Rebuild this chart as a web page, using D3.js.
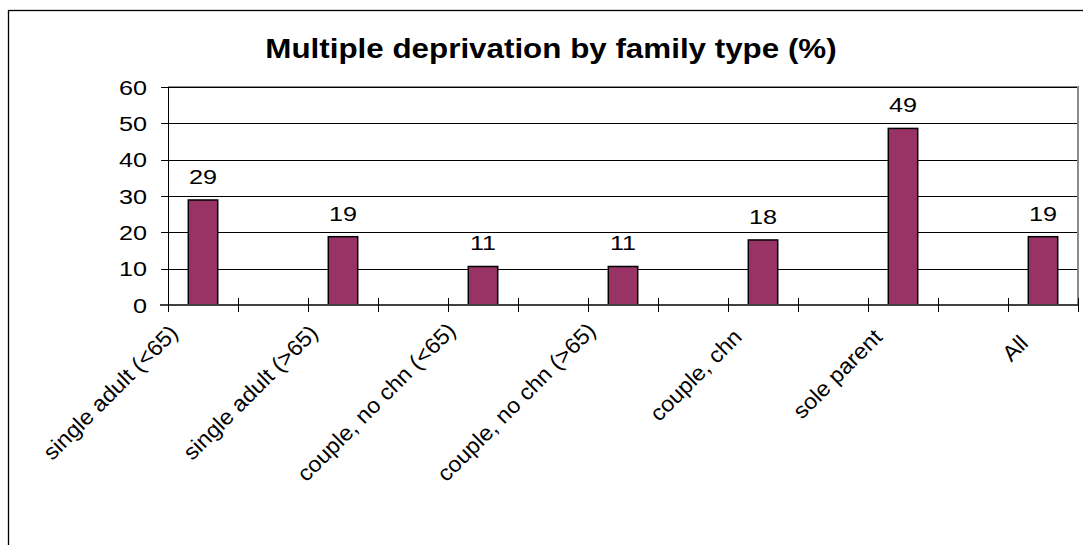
<!DOCTYPE html>
<html>
<head>
<meta charset="utf-8">
<script src="https://cdn.jsdelivr.net/npm/d3@7"></script>
<style>
  body { margin: 0; background: #fff; }
  text { font-family: Arial, "Liberation Sans", sans-serif; fill: #000; }
</style>
</head>
<body>
<svg width="1083" height="545"></svg>
<script>
const categories = ['single adult (<65)', 'single adult (>65)', 'couple, no chn (<65)',
    'couple, no chn (>65)', 'couple, chn', 'sole parent', 'All']
const values = [28.9, 18.8, 10.6, 10.6, 17.9, 48.6, 18.8]
const yTicks = [0, 10, 20, 30, 40, 50, 60]

const svg = d3.select('svg')
const plot = { left: 168, right: 1078, top: 87, bottom: 305 }
const sx = 1.2

// outer chart frame
svg.append('rect')
    .attr('x', 8.5)
    .attr('y', 10.5)
    .attr('width', 1200)
    .attr('height', 700)
    .attr('fill', 'none')
    .attr('stroke', '#000')
    .attr('stroke-width', 1.3)

svg.append('text')
    .attr('transform', 'translate(551,58) scale(1.12,1)')
    .attr('text-anchor', 'middle')
    .attr('font-size', 28)
    .attr('font-weight', 'bold')
    .text('Multiple deprivation by family type (%)')

// one slot per category plus an empty slot between each pair
const slots = d3.range(categories.length * 2 - 1)
const x = d3.scaleBand()
    .domain(slots)
    .range([plot.left, plot.right])
const y = d3.scaleLinear()
    .domain([0, 60])
    .range([plot.bottom, plot.top])

// plot area border (grey)
svg.append('path')
    .attr('d', `M${plot.left},${plot.top}H${plot.right}V${plot.bottom}`)
    .attr('fill', 'none')
    .attr('stroke', '#8c8c8c')
    .attr('stroke-width', 2)

// gridlines
svg.append('g')
    .selectAll('line')
    .data(yTicks.filter(d => d > 0))
    .join('line')
        .attr('x1', plot.left)
        .attr('x2', plot.right - 1)
        .attr('y1', d => Math.round(y(d)) + 0.5)
        .attr('y2', d => Math.round(y(d)) + 0.5)
        .attr('stroke', '#000')
        .attr('stroke-width', 1)

// bars
const barW = x.bandwidth() * 0.42
svg.append('g')
    .selectAll('rect')
    .data(values)
    .join('rect')
        .attr('x', (d, i) => x(i * 2) + (x.bandwidth() - barW) / 2)
        .attr('y', d => y(d))
        .attr('width', barW)
        .attr('height', d => y(0) - y(d))
        .attr('fill', '#993366')
        .attr('stroke', '#000')
        .attr('stroke-width', 1.5)

// value labels
svg.append('g')
    .selectAll('text')
    .data(values)
    .join('text')
        .attr('transform', (d, i) => `translate(${x(i * 2) + x.bandwidth() / 2},${y(d) - 16}) scale(${sx},1)`)
        .attr('text-anchor', 'middle')
        .attr('font-size', 21)
        .text(d => d3.format('.0f')(d))

// y axis
const yAxis = svg.append('g')
    .attr('transform', `translate(${plot.left},0)`)
yAxis.append('line')
    .attr('x1', 0.5).attr('x2', 0.5)
    .attr('y1', plot.top).attr('y2', plot.bottom)
    .attr('stroke', '#000')
yAxis.selectAll('.tick')
    .data(yTicks)
    .join('line')
        .attr('x1', -7).attr('x2', 8)
        .attr('y1', d => Math.round(y(d)) + 0.5)
        .attr('y2', d => Math.round(y(d)) + 0.5)
        .attr('stroke', '#000')
yAxis.selectAll('text')
    .data(yTicks)
    .join('text')
        .attr('transform', d => `translate(-21,${y(d) + 7.5}) scale(${sx},1)`)
        .attr('text-anchor', 'end')
        .attr('font-size', 21)
        .text(d => d)

// x axis
const xAxis = svg.append('g')
xAxis.append('line')
    .attr('x1', plot.left - 8).attr('x2', plot.right)
    .attr('y1', plot.bottom).attr('y2', plot.bottom)
    .attr('stroke', '#404040')
    .attr('stroke-width', 2)
xAxis.selectAll('.tick')
    .data(slots.concat([slots.length]))
    .join('line')
        .attr('x1', d => (d < slots.length ? x(d) : plot.right) + 0.5)
        .attr('x2', d => (d < slots.length ? x(d) : plot.right) + 0.5)
        .attr('y1', plot.bottom - 7)
        .attr('y2', plot.bottom + 7)
        .attr('stroke', '#000')
const catLabels = xAxis.selectAll('text')
    .data(categories)
    .join('text')
        .attr('transform', (d, i) => `translate(${x(i * 2) + x.bandwidth() / 2 - 26},${plot.bottom + 27}) rotate(-45) scale(1.06,1)`)
        .attr('text-anchor', 'end')
        .attr('font-size', 22)
        .text(d => d)
// shorter labels sit a little lower, as in the source
const lens = catLabels.nodes().map(n => n.getComputedTextLength())
const maxLen = d3.max(lens)
catLabels.attr('dy', (d, i) => 0.1 * (maxLen - lens[i]))
</script>
</body>
</html>
